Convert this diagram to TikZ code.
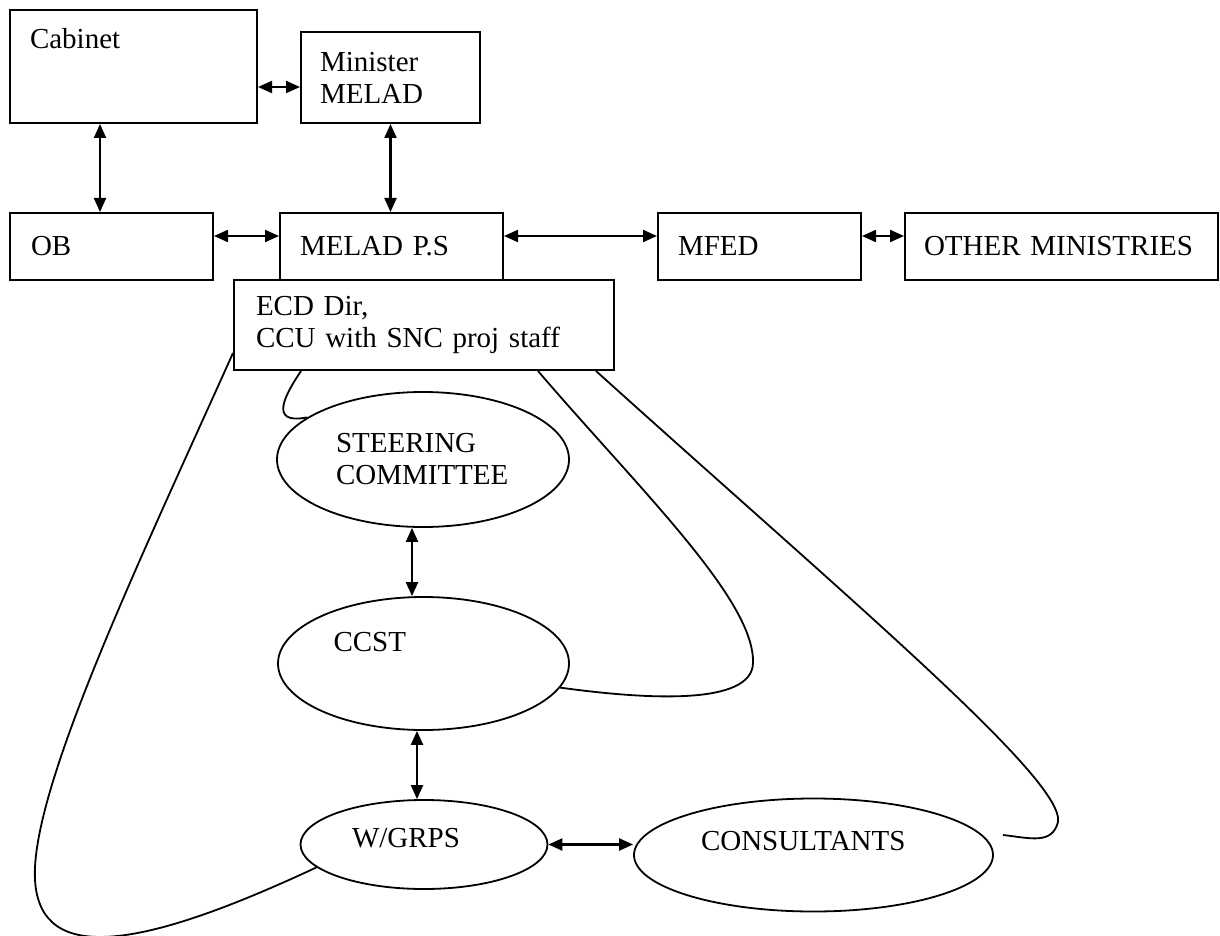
\documentclass[tikz,border=0pt]{standalone}
\usepackage{fontspec}
\setmainfont{Liberation Serif}
\usetikzlibrary{shapes.geometric,arrows.meta}
\begin{document}
\begin{tikzpicture}[x=1pt,y=-1pt,
  every node/.style={font=\fontsize{29}{32}\selectfont},
  box/.style={draw, line width=2pt, fill=white, inner sep=0pt, anchor=north west, align=left},
  oval/.style={draw, ellipse, line width=1.8pt, inner sep=0pt, align=left},
  dar/.style={{Triangle[length=14pt,width=12pt]}-{Triangle[length=14pt,width=12pt]}, line width=2.2pt},
  link/.style={line width=1.8pt}]
\useasboundingbox[fill=white] (0,0) rectangle (1220,936);

% boxes
\node[box, minimum width=247pt, minimum height=113pt, text width=207pt, text height=20pt, text depth=56pt] (cab) at (9,9) {Cabinet};
\node[box, minimum width=179pt, minimum height=91pt, text width=141pt] (min) at (300,31) {Minister\\MELAD};
\node[box, minimum width=203pt, minimum height=67pt, text width=161pt] (ob) at (9,212) {OB};
\node[box, minimum width=223pt, minimum height=67pt, text width=183pt] (ps) at (279,212) {MELAD P.S};
\node[box, minimum width=203pt, minimum height=67pt, text width=163pt] (mfed) at (657,212) {MFED};
\node[box, minimum width=313pt, minimum height=67pt, text width=275pt] (oth) at (904,212) {\mbox{OTHER MINISTRIES}};
\node[box, minimum width=380pt, minimum height=90pt, text width=336pt] (ecd) at (233,279) {ECD Dir,\\CCU with SNC proj staff};

% ellipses
\node[oval, minimum width=292pt, minimum height=135pt, text width=174pt] (steer) at (423,459.5) {STEERING\\COMMITTEE};
\node[oval, minimum width=291pt, minimum height=133pt, text width=180pt, text height=20pt, text depth=44pt] (ccst) at (423.5,663.5) {CCST};
\node[oval, minimum width=247pt, minimum height=89pt, text width=144pt, text height=20pt, text depth=14pt] (wgrps) at (424,844.5) {W/GRPS};
\node[oval, minimum width=359pt, minimum height=113pt, text width=225pt, text height=20pt, text depth=30pt] (cons) at (813.5,855) {CONSULTANTS};

% double arrows
\draw[dar] ([yshift=-20.5pt]cab.east) -- ([yshift=-9.5pt]min.west);
\draw[dar] ([xshift=-33.5pt]cab.south) -- ([xshift=-11.5pt]ob.north);
\draw[dar] (min.south) -- (min.south |- ps.north);
\draw[dar] ([yshift=10.5pt]ob.east) -- ([yshift=10.5pt]ps.west);
\draw[dar] ([yshift=10.5pt]ps.east) -- ([yshift=10.5pt]mfed.west);
\draw[dar] ([yshift=10.5pt]mfed.east) -- ([yshift=10.5pt]oth.west);
\draw[dar] ([xshift=-11pt]steer.south) -- ([xshift=-11.5pt]ccst.north);
\draw[dar] ([xshift=-6.5pt]ccst.south) -- ([xshift=-7pt]wgrps.north);
\draw[dar] (wgrps.east) -- (wgrps.east -| cons.west);

% curved links
\coordinate (consend) at (1003,835);
\draw[link] ([yshift=-28pt]ecd.west) .. controls (140,560) and (30,790) .. (35,880)
  .. controls (40,965) and (140,950) .. (wgrps.192);
\draw[link] ([xshift=-123pt]ecd.south) .. controls (285,395) and (268,425) .. (steer.160);
\draw[link] ([xshift=114pt]ecd.south) .. controls (640,490) and (755,600) .. (753,663)
  .. controls (752,705) and (650,700) .. (ccst.350);
\draw[link] ([xshift=172pt]ecd.south) .. controls (850,600) and (1065,780) .. (1058,822)
  .. controls (1052,845) and (1030,838) .. (consend);
\end{tikzpicture}
\end{document}
